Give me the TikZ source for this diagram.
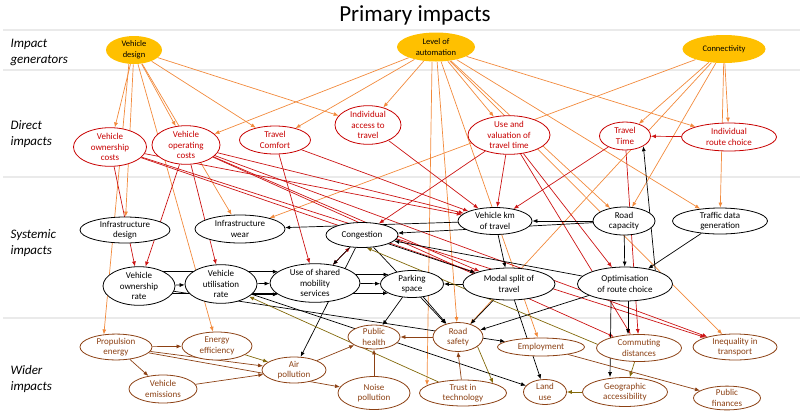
\documentclass[tikz,border=0pt]{standalone}
\usepackage{fontspec}
\setmainfont{Carlito}
\usetikzlibrary{shapes.geometric,arrows.meta,backgrounds}
\definecolor{genfill}{RGB}{255,192,0}
\definecolor{orgline}{RGB}{242,138,60}
\definecolor{redline}{RGB}{204,20,20}
\definecolor{redtext}{RGB}{200,0,0}
\definecolor{brnline}{RGB}{140,65,20}
\definecolor{olvline}{RGB}{130,105,10}
\definecolor{sepline}{RGB}{234,234,234}
\begin{document}
\begin{tikzpicture}[x=1pt,y=-1pt,
  >={Latex[length=5pt,width=4pt]},
  nd/.style={ellipse, inner sep=0pt, align=center, font=\fontsize{9}{10.5}\selectfont, fill=white, line width=0.8pt},
  gn/.style={nd, fill=genfill, font=\fontsize{8.5}{10.5}\selectfont},
  di/.style={nd, draw=redtext, text=redtext},
  sy/.style={nd, draw=black},
  wi/.style={nd, draw=brnline, text=brnline},
  sz/.style 2 args={minimum width=#1pt, minimum height=#2pt},
  ar/.style={->, line width=0.7pt},
  eo/.style={ar, draw=orgline},
  er/.style={ar, draw=redline},
  eb/.style={ar, draw=black},
  eol/.style={ar, draw=olvline},
  ebr/.style={ar, draw=brnline},
  sepl/.style={draw=sepline, line width=1.3pt},
  side/.style={anchor=west, align=left, font=\itshape\fontsize{13}{16}\selectfont}
]
\useasboundingbox (0,0) rectangle (800,416);

\node[font=\fontsize{23}{26}\selectfont] (title) at (415,15) {Primary impacts};
\node[side] (lgen) at (7,52) {Impact\\generators};
\node[side] (ldir) at (7,134) {Direct\\impacts};
\node[side] (lsys) at (7,243) {Systemic\\impacts};
\node[side] (lwid) at (7,379) {Wider\\impacts};

% generators
\node[gn, sz={56}{28}] (vd) at (134,50) {Vehicle\\design};
\node[gn, sz={78}{29}] (la) at (436,47) {Level of\\automation};
\node[gn, sz={83}{28}] (cn) at (724,49) {Connectivity};

% direct impacts
\node[di, sz={73}{36}] (vown) at (110,147) {Vehicle\\ownership\\costs};
\node[di, sz={68}{36}] (vop) at (186,145) {Vehicle\\operating\\costs};
\node[di, sz={71}{28}] (tc) at (275,140) {Travel\\Comfort};
\node[di, sz={66}{36}] (iat) at (368,125) {Individual\\access to\\travel};
\node[di, sz={82}{36}] (uvt) at (509,135) {Use and\\valuation of\\travel time};
\node[di, sz={51}{28}] (tt) at (625,136) {Travel\\Time};
\node[di, sz={95}{28}] (irc) at (729,137) {Individual\\route choice};

% systemic impacts
\node[sy, sz={90}{26}] (ides) at (125,230) {Infrastructure\\design};
\node[sy, sz={90}{28}] (iwear) at (240,229) {Infrastructure\\wear};
\node[sy, sz={72}{25}] (cong) at (362,235) {Congestion};
\node[sy, sz={74}{27}] (vkm) at (495,221) {Vehicle km\\of travel};
\node[sy, sz={62}{28}] (rcap) at (624,221) {Road\\capacity};
\node[sy, sz={95}{26}] (tdg) at (720,221) {Traffic data\\generation};
\node[sy, sz={72}{36}] (vor) at (139,286) {Vehicle\\ownership\\rate};
\node[sy, sz={72}{36}] (vur) at (221,284) {Vehicle\\utilisation\\rate};
\node[sy, sz={90}{36}] (usm) at (315,283) {Use of shared\\mobility\\services};
\node[sy, sz={63}{27}] (ps) at (412,284) {Parking\\space};
\node[sy, sz={92}{32}] (ms) at (509,284) {Modal split of\\travel};
\node[sy, sz={95}{34}] (orc) at (625,284) {Optimisation\\of route choice};

% wider impacts
\node[wi, sz={72}{24}] (pe) at (116,347) {Propulsion\\energy};
\node[wi, sz={70}{28}] (ee) at (217,346) {Energy\\efficiency};
\node[wi, sz={68}{28}] (ve) at (163,389) {Vehicle\\emissions};
\node[wi, sz={64}{26}] (ap) at (294,370) {Air\\pollution};
\node[wi, sz={52}{24}] (ph) at (374,337) {Public\\health};
\node[wi, sz={72}{33}] (np) at (374,393) {Noise\\pollution};
\node[wi, sz={50}{29}] (rs) at (458,337) {Road\\safety};
\node[wi, sz={87}{26}] (tit) at (463,393) {Trust in\\technology};
\node[wi, sz={87}{18}] (emp) at (541,347) {Employment};
\node[wi, sz={85}{27}] (cd) at (639,348) {Commuting\\distances};
\node[wi, sz={84}{26}] (ineq) at (735,347) {Inequality in\\transport};
\node[wi, sz={43}{25}] (lu) at (545,392) {Land\\use};
\node[wi, sz={85}{29}] (ga) at (625,392) {Geographic\\accessibility};
\node[wi, sz={67}{23}] (pf) at (727,398) {Public\\finances};

\begin{pgfonlayer}{background}
\draw[sepl] (3,30) -- (800,30);
\draw[sepl] (3,70) -- (800,70);
\draw[sepl] (3,177) -- (800,177);
\draw[sepl] (3,318) -- (800,318);

% orange
\draw[eo] (vd) -- (vown);
\draw[eo] (vd) -- (ides);
\draw[eo] (vd.250) -- (pe.134);
\draw[eo] (vd) -- (ee);
\draw[eo] (vd) -- (iwear);
\draw[eo] (vd) -- (vop);
\draw[eo] (vd) -- (tc);
\draw[eo] (vd) -- (iat);
\draw[eo] (la) -- (vop);
\draw[eo] (la) -- (tc);
\draw[eo] (la) -- (iat);
\draw[eo] (la.255) -- (tit.168);
\draw[eo] (la) -- (rs);
\draw[eo] (la) -- (emp);
\draw[eo] (la) -- (uvt);
\draw[eo] (la) -- (rcap);
\draw[eo] (la) -- (tdg);
\draw[eo] (la) -- (irc);
\draw[eo] (la) -- (ineq);
\draw[eo] (cn) -- (iwear);
\draw[eo] (cn) -- (tt);
\draw[eo] (cn) -- (irc);
\draw[eo] (cn) -- (tdg);
\draw[eo] (cn) -- (rcap);
\draw[eo] (cn) -- (rs);

% red
\draw[er] (vown) -- (vor);
\draw[er] (vown) -- (vkm);
\draw[er] (vown) -- (ms);
\draw[er] (vown) -- (ineq);
\draw[er] (vop) -- (vor);
\draw[er] (vop) -- (vur);
\draw[er] (vop) -- (vkm);
\draw[er] (vop) -- (ms);
\draw[er] (vop) -- (cd);
\draw[er] (vop) -- (ineq);
\draw[er] (tc) -- (usm);
\draw[er] (tc) -- (vkm);
\draw[er] (iat) -- (vkm);
\draw[er] (uvt) -- (vkm);
\draw[er] (uvt) -- (cong);
\draw[er] (uvt) -- (orc);
\draw[er] (uvt) -- (cd);
\draw[er] (tt) -- (vkm);
\draw[er] (tt) -- (cd);
\draw[er] (irc) -- (tt);
\draw[er, <->] (usm) -- (cong);

% black
\draw[eb] (vkm) -- (iwear);
\draw[eb] (vkm) -- (ms);
\draw[eb] (rcap) -- (vkm);
\draw[eb] (rcap) -- (cong);
\draw[eb] (rcap) -- (orc);
\draw[eb] (tdg) -- (orc);
\draw[eb] (orc.24) -- (tt.-29);
\draw[eb] (orc) -- (cong);
\draw[eb] (cong) -- (usm);
\draw[eb] (cong) -- (ms);
\draw[eb] (cong) -- (rs);
\draw[eb] (cong) -- (ap);
\draw[eb] (ms) -- (ps);
\draw[eb] (ms) -- (rs);
\draw[eb] (ms) -- (lu);
\draw[eb] (ps) -- (ph);
\draw[eb] (ps) -- (rs);
\draw[eb] (orc) -- (rs);
\draw[eb] ([xshift=3pt]orc.south) -- ([xshift=-11pt]cd.north);
\draw[eb] ([xshift=-14pt]orc.south) -- ([xshift=-15pt]ga.north);
\draw[eb] (vor) -- (emp);
\draw[eb] (vur) -- (lu);
\draw[eb] (vor) -- (vur);
\draw[eb] (vor |- usm.163) -- (usm.163);
\draw[eb] (vor |- ps.201) -- (ps.201);
\draw[eb] (vur |- usm.197) -- (usm.197);
\draw[eb] (vur) -- (usm);
\draw[eb] (usm |- ps.158) -- (ps.158);
\draw[eb] (usm) -- (ps);

% olive
\draw[eol] (ee) -- (ap);
\draw[eol] (rs.-26) -- (tit.18);
\draw[eol] (tit) -- (vur);
\draw[eol] (cd.175) -- (cong.-70);
\draw[eol] (cd) -- (ga);
\draw[eol] (ga) -- (lu);

% brown
\draw[ebr] (pe) -- (ee);
\draw[ebr] (pe) -- (ve);
\draw[ebr] (pe) -- (ap);
\draw[ebr] (pe) -- (np);
\draw[ebr] (ve) -- (ap);
\draw[ebr] (ap) -- (ph);
\draw[ebr] (np) -- (ph);
\draw[ebr] (rs) -- (ph);
\draw[ebr] (tit.97) -- (rs.south);
\draw[ebr] (emp) -- (pf);
\end{pgfonlayer}
\end{tikzpicture}
\end{document}
